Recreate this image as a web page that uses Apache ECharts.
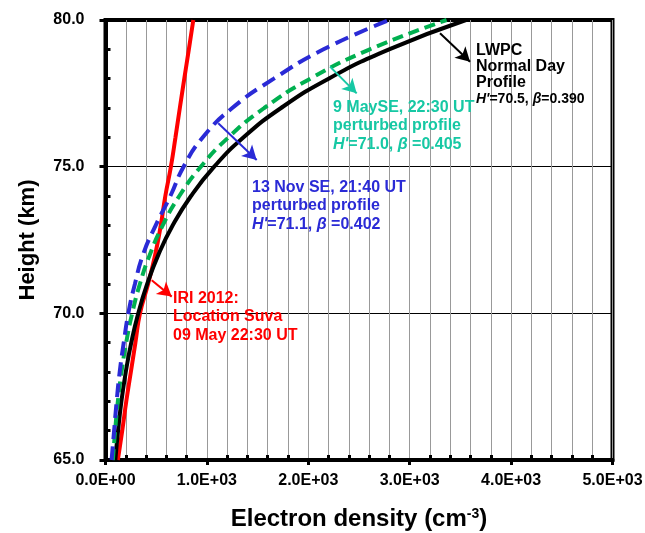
<!DOCTYPE html>
<html>
<head>
<meta charset="utf-8">
<script src="https://cdn.jsdelivr.net/npm/echarts@6/dist/echarts.min.js"></script>
<style>
  html, body { margin: 0; padding: 0; background: #fff; }
  #myChart { width: 645px; height: 533px; }
</style>
</head>
<body>
<div id="myChart"></div>
<script>
// Heights (km)
const heights = [65, 66, 67, 68, 69, 70, 71, 72, 73, 74, 75, 76, 77, 78, 79, 80]
// Electron density (cm^-3)
const lwpcNormal = [97, 124, 157, 200, 254, 323, 411, 522, 663, 843, 1072, 1362, 1731, 2200, 2797, 3555]
const may9 = [73, 95, 122, 158, 204, 263, 339, 437, 564, 728, 940, 1213, 1565, 2020, 2607, 3364]
const nov13 = [60, 85, 110, 140, 180, 225, 290, 370, 495, 640, 770, 960, 1250, 1660, 2150, 2800]
const iri2012 = [122, 165, 205, 250, 295, 340, 420, 490, 545, 590, 645, 690, 733, 777, 822, 866]

// Arrow ends [density, height]
const arrowLwpc = [[3299, 79.55], [3595, 78.58]]
const arrowMay = [[2214, 78.41], [2477, 77.5]]
const arrowNov = [[1112, 76.48], [1491, 75.23]]
const arrowIri = [[456, 71.13], [653, 70.57]]

const FONT = '"Liberation Sans", Arial, sans-serif'

const pairs = (xs) => xs.map((v, i) => [v, heights[i]])

const fmtExp = (v) => {
  if (v === 0) return '0.0E+00'
  const e = Math.floor(Math.log10(v))
  const m = (v / Math.pow(10, e)).toFixed(1)
  return m + 'E+' + String(e).padStart(2, '0')
}

const arrow = (pts, color) => ({
  silent: true,
  symbol: ['none', 'arrow'],
  symbolSize: [12, 14],
  label: { show: false },
  lineStyle: { color: color, width: 2, type: 'solid' },
  data: [[{ coord: pts[0] }, { coord: pts[1] }]],
})

const lineSeries = (name, data, color, dash, arrowPts, arrowColor) => ({
  name: name,
  type: 'line',
  smooth: true,
  showSymbol: false,
  symbol: 'none',
  z: 3,
  data: pairs(data),
  lineStyle: {
    color: color,
    width: 4,
    type: dash || 'solid',
  },
  markLine: arrow(arrowPts, arrowColor),
})

const chart = echarts.init(document.getElementById('myChart'))

const labelText = (x, y, lines, color, size, lh) => ({
  type: 'text',
  left: x,
  top: y,
  z: 10,
  style: {
    text: lines,
    fill: color,
    font: 'bold ' + size + 'px ' + FONT,
    lineHeight: lh,
    rich: {
      i: { fontStyle: 'italic', fontWeight: 'bold', fontSize: size, lineHeight: lh, fill: color, fontFamily: FONT },
      n: { fontWeight: 'bold', fontSize: size, lineHeight: lh, fill: color, fontFamily: FONT },
    },
  },
})

chart.setOption({
  animation: false,
  backgroundColor: '#fff',
  grid: {
    left: 105.5,
    right: 32.5,
    top: 20,
    bottom: 73,
    outerBoundsMode: 'none',
    containLabel: false,
    show: true,
    borderColor: '#000',
    borderWidth: 4,
    backgroundColor: 'transparent',
  },
  xAxis: [{
    type: 'value',
    min: 0,
    max: 5000,
    interval: 1000,
    axisLine: { lineStyle: { color: '#000', width: 4 } },
    axisTick: { show: true, inside: false, length: 5, lineStyle: { color: '#000', width: 3 } },
    minorTick: { show: false },
    axisLabel: {
      color: '#000',
      fontFamily: FONT,
      fontWeight: 'bold',
      fontSize: 16,
      margin: 13,
      formatter: fmtExp,
    },
    splitLine: { show: true, lineStyle: { color: '#999', width: 1 } },
    minorSplitLine: { show: true, lineStyle: { color: '#999', width: 1 } },
    name: 'Electron density (cm{sup|-3})',
    nameLocation: 'middle',
    nameGap: 47,
    nameTextStyle: {
      color: '#000',
      fontFamily: FONT,
      fontWeight: 'bold',
      fontSize: 24,
      rich: {
        sup: { fontFamily: FONT, fontWeight: 'bold', fontSize: 14, color: '#000', padding: [0, 0, 10, 0] },
      },
    },
  }, {
    type: 'value',
    min: 0,
    max: 5000,
    interval: 1000,
    position: 'bottom',
    axisLine: { show: false },
    axisTick: { show: false, inside: true },
    minorTick: { show: true, splitNumber: 5, length: 5, lineStyle: { color: '#000', width: 3 } },
    axisLabel: { show: false },
    splitLine: { show: false },
  }],
  yAxis: [{
    type: 'value',
    min: 65,
    max: 80,
    interval: 5,
    axisLine: { lineStyle: { color: '#000', width: 4 } },
    axisTick: { show: true, inside: false, length: 6, lineStyle: { color: '#000', width: 3 } },
    minorTick: { show: false },
    axisLabel: {
      color: '#000',
      fontFamily: FONT,
      fontWeight: 'bold',
      fontSize: 16,
      margin: 21,
      formatter: (v) => v.toFixed(1),
    },
    splitLine: { show: true, lineStyle: { color: '#000', width: 1 } },
    name: 'Height (km)',
    nameLocation: 'middle',
    nameGap: 67,
    nameTextStyle: { color: '#000', fontFamily: FONT, fontWeight: 'bold', fontSize: 22 },
  }, {
    type: 'value',
    min: 65,
    max: 80,
    interval: 5,
    position: 'left',
    axisLine: { show: false },
    axisTick: { show: false, inside: true },
    minorTick: { show: true, splitNumber: 5, length: 5, lineStyle: { color: '#000', width: 3 } },
    axisLabel: { show: false },
    splitLine: { show: false },
  }],
  series: [
    lineSeries('IRI 2012', iri2012, '#ff0000', null, arrowIri, '#ff0000'),
    lineSeries('LWPC', lwpcNormal, '#000000', null, arrowLwpc, '#000000'),
    lineSeries('9 May SE', may9, '#00b050', [11, 6], arrowMay, '#16c8a4'),
    lineSeries('13 Nov SE', nov13, '#2a2ad6', [14, 7], arrowNov, '#2a2ad6'),
  ],
  graphic: [
    labelText(476, 43, 'LWPC\nNormal Day\nProfile', '#000', 16, 16),
    labelText(476, 92, "{i|H'}{n|=70.5, }{i|β}{n|=0.390}", '#000', 14, 14),
    labelText(333, 98, "9 MaySE, 22:30 UT\nperturbed profile\n{i|H'}{n|=71.0, }{i|β}{n| =0.405}", '#16c8a4', 16, 18.5),
    labelText(252, 178, "13 Nov SE, 21:40 UT\nperturbed profile\n{i|H'}{n|=71.1, }{i|β}{n| =0.402}", '#2a2ad6', 16, 18.5),
    labelText(173, 289, 'IRI 2012:\nLocation Suva\n09 May 22:30 UT', '#ff0000', 16, 18.5),
  ],
})
</script>
</body>
</html>
